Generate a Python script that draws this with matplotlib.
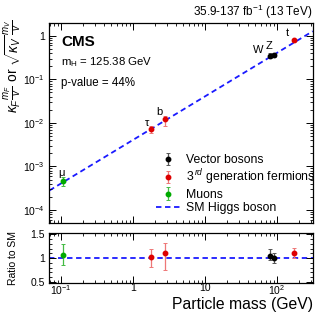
import numpy as np
import matplotlib
matplotlib.use("Agg")
import matplotlib.pyplot as plt
from matplotlib.ticker import LogLocator, NullFormatter, MultipleLocator
from matplotlib.lines import Line2D

plt.rcParams['font.family'] = ['Liberation Sans', 'DejaVu Sans']
plt.rcParams['mathtext.fontset'] = 'custom'
plt.rcParams['mathtext.rm'] = 'Liberation Sans'
plt.rcParams['mathtext.it'] = 'Liberation Sans:italic'
plt.rcParams['mathtext.bf'] = 'Liberation Sans:bold'

# ---- data ----
vev = 246.22
x_min, x_max = 0.0692, 313.0

particles = ['μ', 'τ', 'b', 'W', 'Z', 't']
groups = ['mu', 'ferm', 'ferm', 'vec', 'vec', 'ferm']
masses = [0.1057, 1.777, 2.76, 80.38, 91.19, 172.76]
ratio = [1.07, 1.02, 1.10, 1.05, 1.00, 1.11]
ratio_up = [0.23, 0.16, 0.21, 0.15, 0.11, 0.10]
ratio_dn = [0.22, 0.20, 0.35, 0.10, 0.10, 0.10]

label_offsets = [(-1, 3), (-4, 1), (-5, 2), (-12, 6), (-5, 9), (-7, 7)]
label_va = ['bottom', 'bottom', 'bottom', 'center', 'center', 'center']

legend_labels = ['Vector bosons', '3$^{\\,rd}$ generation fermions', 'Muons', 'SM Higgs boson']

colors = {'vec': 'black', 'ferm': '#dd0000', 'mu': '#00aa00'}
ecolors = {'vec': '#555555', 'ferm': '#ee7777', 'mu': '#44bb44'}

fig = plt.figure(figsize=(3.32, 3.19), dpi=100)
ax = fig.add_axes([0.149, 0.2994, 0.793, 0.6296])
axr = fig.add_axes([0.149, 0.1138, 0.793, 0.1548])

masses_a = np.array(masses)
ratio_a = np.array(ratio)
y_main = ratio_a * masses_a / vev
y_up = np.array(ratio_up) * masses_a / vev
y_dn = np.array(ratio_dn) * masses_a / vev

xs = np.logspace(np.log10(x_min), np.log10(x_max), 200)
ax.plot(xs, xs / vev, color='#1a1aff', ls=(0, (3, 2)), lw=1.3, zorder=1)
axr.axhline(1.0, color='#1a1aff', ls=(0, (3, 2)), lw=1.3, zorder=1)

handles = {}
for i, g in enumerate(groups):
    h = ax.errorbar(masses[i], y_main[i], yerr=[[y_dn[i]], [y_up[i]]], fmt='o', ms=3.2,
                    color=colors[g], ecolor=ecolors[g], elinewidth=0.9, capsize=1.5,
                    capthick=0.7, zorder=3)
    handles.setdefault(g, h)
    axr.errorbar(masses[i], ratio[i], yerr=[[ratio_dn[i]], [ratio_up[i]]], fmt='o', ms=3.2,
                 color=colors[g], ecolor=ecolors[g], elinewidth=0.9, capsize=1.5,
                 capthick=0.7, zorder=3)
    ax.annotate(particles[i], (masses[i], y_main[i]), xytext=label_offsets[i],
                textcoords='offset pixels', ha='center', va=label_va[i], fontsize=8)

line_h = Line2D([], [], color='#1a1aff', ls=(0, (3, 2)), lw=1.3)
ax.legend([handles['vec'], handles['ferm'], handles['mu'], line_h], legend_labels,
          loc='upper left', bbox_to_anchor=(0.38, 0.375), frameon=False, fontsize=8.8,
          handlelength=2.0, handletextpad=0.5, labelspacing=0.12, borderpad=0)

for a in (ax, axr):
    a.set_xscale('log')
    a.set_xlim(x_min, x_max)
    a.tick_params(which='both', direction='in', top=True, right=True, labelsize=7.5)
    a.tick_params(which='major', length=5, width=0.7)
    a.tick_params(which='minor', length=2.5, width=0.6)
    for s in a.spines.values():
        s.set_linewidth(0.9)
    a.xaxis.set_minor_locator(LogLocator(base=10, subs=np.arange(2, 10), numticks=20))

ax.set_yscale('log')
ax.set_ylim(4.9e-5, 2.0)
ax.yaxis.set_minor_locator(LogLocator(base=10, subs=np.arange(2, 10), numticks=20))
ax.yaxis.set_minor_formatter(NullFormatter())
ax.set_yticks([1e-4, 1e-3, 1e-2, 1e-1, 1])
ax.set_yticklabels(['10$^{-4}$', '10$^{-3}$', '10$^{-2}$', '10$^{-1}$', '1'])
ax.set_xticklabels([])
ax.xaxis.set_minor_formatter(NullFormatter())
ax.set_ylabel(r'$\kappa_F\frac{m_F}{v}$ or $\sqrt{\kappa_V}\,\frac{m_V}{v}$', fontsize=10)
ax.yaxis.set_label_coords(-0.098, 0.78)

axr.set_ylim(0.48, 1.52)
axr.set_yticks([0.5, 1, 1.5])
axr.set_yticklabels(['0.5', '1', '1.5'])
axr.yaxis.set_minor_locator(MultipleLocator(0.1))
axr.set_xticks([0.1, 1, 10, 100])
axr.set_xticklabels(['10$^{-1}$', '1', '10', '10$^{2}$'])
axr.xaxis.set_minor_formatter(NullFormatter())
axr.tick_params(axis='x', which='major', pad=0.5, labelsize=7.5)
axr.set_ylabel('Ratio to SM', fontsize=7.5)
axr.yaxis.set_label_coords(-0.118, 0.5)
axr.set_xlabel('Particle mass (GeV)', fontsize=11.3, loc='right')
axr.xaxis.set_label_coords(1.0, -0.28)
axr.xaxis.label.set_va('top')

fig.text(0.942, 0.963, '35.9-137 fb$^{-1}$ (13 TeV)', ha='right', va='center', fontsize=8.5)
ax.text(0.045, 0.905, 'CMS', transform=ax.transAxes, fontsize=11, fontweight='bold', va='center')
ax.text(0.045, 0.805, '$\\mathregular{m_H}$ = 125.38 GeV', transform=ax.transAxes, fontsize=8.2, va='center')
ax.text(0.045, 0.70, 'p-value = 44%', transform=ax.transAxes, fontsize=8.3, va='center')

fig.savefig('out.png', dpi=100)
